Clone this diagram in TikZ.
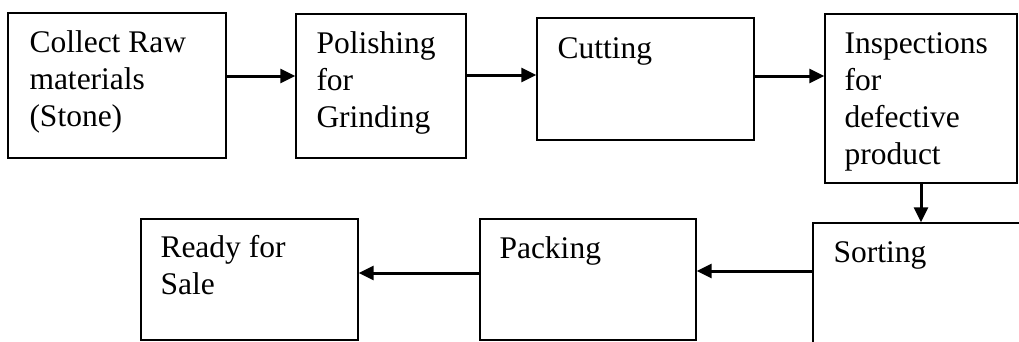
\documentclass[tikz,border=0pt]{standalone}
\usepackage{fontspec}
\setmainfont{Liberation Serif}
\usetikzlibrary{arrows.meta,calc}
\begin{document}
\begin{tikzpicture}[x=1pt,y=-1pt,
  box/.style={draw=black,line width=1.4pt,rectangle,inner sep=0pt},
  txt/.style={anchor=base west,inner sep=0pt,align=left,font={\fontsize{31.5}{37}\selectfont}},
  arr/.style={line width=3pt,-{Triangle[length=15pt,width=14pt]}}]
\useasboundingbox (0,0) rectangle (1019,341);
% boxes
\node[box,minimum width=218pt,minimum height=145pt] (b1) at (117,85.5) {};
\node[box,minimum width=170pt,minimum height=144pt] (b2) at (381,86) {};
\node[box,minimum width=217pt,minimum height=122pt] (b3) at (645.5,79) {};
\node[box,minimum width=192pt,minimum height=169pt] (b4) at (921,98.5) {};
\node[box,minimum width=230pt,minimum height=140pt] (b5) at (928,293) {};
\node[box,minimum width=216pt,minimum height=121pt] (b6) at (588,279.5) {};
\node[box,minimum width=217pt,minimum height=121pt] (b7) at (249.5,279.5) {};
% texts (anchored at the baseline of the last line)
\node[txt] (t1) at ($(b1.north west)+(22,114)$) {Collect Raw\\materials\\(Stone)};
\node[txt] (t2) at ($(b2.north west)+(21,114)$) {Polishing\\for\\Grinding};
\node[txt] (t3) at ($(b3.north west)+(21,41)$) {Cutting};
\node[txt] (t4) at ($(b4.north west)+(20,151)$) {Inspections\\for\\defective\\product};
\node[txt] (t5) at ($(b5.north west)+(21,40)$) {Sorting};
\node[txt] (t6) at ($(b6.north west)+(20,40)$) {Packing};
\node[txt] (t7) at ($(b7.north west)+(20,76)$) {Ready for\\Sale};
% connectors
\draw[arr] ([yshift=9.5pt]b1.east) -- ([yshift=9.5pt]b1.east -| b2.west);
\draw[arr] ([yshift=11pt]b2.east) -- ([yshift=11pt]b2.east -| b3.west);
\draw[arr] ([yshift=3pt]b3.east) -- ([yshift=3pt]b3.east -| b4.west);
\draw[arr] (b4.south) -- (b4.south |- b5.north);
\draw[arr] ([yshift=8.5pt]b6.east -| b5.west) -- ([yshift=8.5pt]b6.east);
\draw[arr] ([yshift=6.5pt]b7.east -| b6.west) -- ([yshift=6.5pt]b7.east);
\end{tikzpicture}
\end{document}
